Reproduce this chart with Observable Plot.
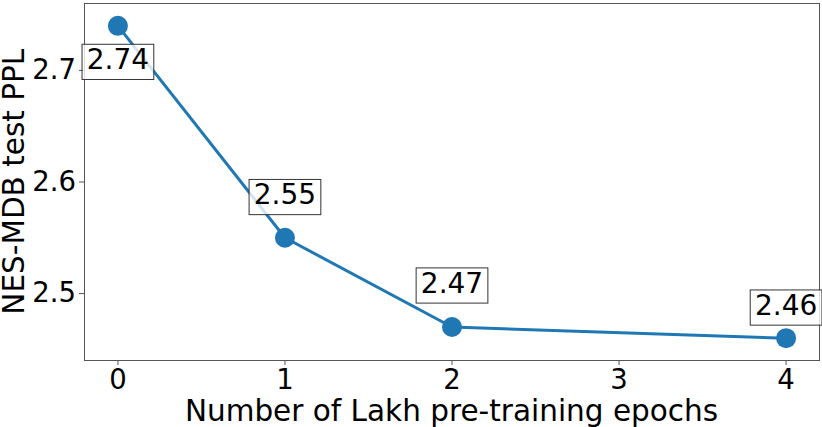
<!DOCTYPE html>
<html><head><meta charset="utf-8">
<script src="https://cdn.jsdelivr.net/npm/d3@7"></script>
<script src="https://cdn.jsdelivr.net/npm/@observablehq/plot@0.6"></script>
<style>body{margin:0;background:#fff;}</style>
</head><body><div id="chart"></div>
<script>
const epochs = [0, 1, 2, 4];
const ppl = [2.74, 2.55, 2.47, 2.46];
const pplLabels = ["2.74", "2.55", "2.47", "2.46"];
const xTicks = [0, 1, 2, 3, 4];
const yTicks = [2.5, 2.6, 2.7];
const xLabel = "Number of Lakh pre-training epochs";
const yLabel = "NES-MDB test PPL";

const data = epochs.map((e, i) => ({epoch: e, ppl: ppl[i], label: pplLabels[i]}));
const labelDy = [34.3, -42.5, -43.3, -32.4];
const blue = "#1f77b4";

const chart = Plot.plot({
  width: 822, height: 427,
  marginLeft: 84, marginRight: 3, marginTop: 3, marginBottom: 67,
  style: {fontFamily: "DejaVu Sans", background: "white", color: "black"},
  x: {domain: [-0.2, 4.2]},
  y: {domain: [2.44, 2.76]},
  marks: [
    Plot.axisX(xTicks, {tickSize: 5, tickPadding: 4, fontSize: 27.5, label: null, tickFormat: d => String(d), stroke: "#555"}),
    Plot.axisY(yTicks, {tickSize: 5, tickPadding: 3.5, fontSize: 27.5, label: null, tickFormat: d => d.toFixed(1), stroke: "#555"}),
    Plot.frame({stroke: "#555"}),
    Plot.line(data, {x: "epoch", y: "ppl", stroke: blue, strokeWidth: 3}),
    Plot.dot(data, {x: "epoch", y: "ppl", r: 10, fill: blue, stroke: "none"}),
    ...data.map((d, i) => Plot.text([d], {
      x: "epoch", y: "ppl", text: "label", dy: labelDy[i],
      fontSize: 28, fill: "black", lineAnchor: "middle", textAnchor: "middle", className: "ann"
    }))
  ]
});
document.getElementById("chart").appendChild(chart);

const svg = d3.select(chart);
svg.selectAll("g.ann text").each(function() {
  const b = this.getBBox();
  const r = document.createElementNS("http://www.w3.org/2000/svg", "rect");
  r.setAttribute("x", b.x - 4.7);
  r.setAttribute("y", b.y + 1.2);
  r.setAttribute("width", b.width + 9.4);
  r.setAttribute("height", b.height + 2.2);
  r.setAttribute("fill", "white");
  r.setAttribute("fill-opacity", 0.8);
  r.setAttribute("stroke", "#333");
  r.setAttribute("stroke-width", 1);
  const t = this.getAttribute("transform");
  if (t) r.setAttribute("transform", t);
  this.parentNode.insertBefore(r, this);
});

svg.append("text")
  .attr("transform", "translate(24,181.7) rotate(-90)")
  .attr("text-anchor", "middle")
  .attr("font-family", "DejaVu Sans")
  .attr("font-size", 29.5)
  .attr("fill", "black")
  .text(yLabel);
svg.append("text")
  .attr("x", 451.5).attr("y", 420.5)
  .attr("text-anchor", "middle")
  .attr("font-family", "DejaVu Sans")
  .attr("font-size", 29.5)
  .attr("fill", "black")
  .text(xLabel);
</script>
</body></html>
